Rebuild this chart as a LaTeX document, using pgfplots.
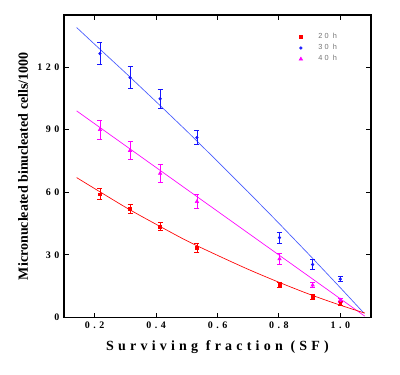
\documentclass[border=0pt]{standalone}
\usepackage{fontspec}
\setmainfont{Liberation Serif}
\newfontfamily\legfont[LetterSpace=30]{Liberation Sans}
\usepackage{pgfplots}
\pgfplotsset{compat=1.18}
\definecolor{cred}{RGB}{255,0,0}
\definecolor{cblue}{RGB}{20,20,255}
\definecolor{cblueline}{RGB}{70,90,255}
\definecolor{cmag}{RGB}{255,0,255}
\begin{document}
\begin{tikzpicture}
\begin{axis}[
  scale only axis,
  width=230pt, height=226.5pt,
  xmin=0.1, xmax=1.1, ymin=0, ymax=145,
  xtick={0.2,0.4,0.6,0.8,1.0},
  xticklabels={0.2,0.4,0.6,0.8,1.0},
  ytick={0,30,60,90,120},
  yticklabels={0,30,60,90,120},
  tick align=inside,
  major tick length=3.5pt,
  tick style={black, line width=0.8pt},
  axis line style={line width=1pt},
  ticklabel style={font=\fontsize{7.5}{9}\selectfont\bfseries\addfontfeatures{LetterSpace=35}},
  xlabel={\addfontfeatures{LetterSpace=30}Surviving fraction (SF)},
  ylabel={Micronucleated binucleated cells/1000},
  label style={font=\fontsize{10.5}{12}\selectfont\bfseries},
  xlabel style={yshift=-2pt},
  ylabel style={yshift=0pt},
  legend image code/.code={\draw[#1] plot coordinates {(0.12cm,0cm)}; \path (0cm,0cm) (0.5cm,0cm);},
  legend style={draw=none, fill=none, at={(0.742,0.958)}, anchor=north west,
    font=\fontsize{5.5}{6}\selectfont\legfont\color{black!55}, row sep=-1.2pt},
  legend cell align=left,
  error bars/error bar style={line width=0.6pt},
]
% fit lines
\addplot[cblueline, line width=0.5pt, forget plot] coordinates {
 (0.141,139.0) (0.2,130.9) (0.3,117.3) (0.4,103.4) (0.5,89.3) (0.6,74.8)
 (0.7,60.1) (0.8,45.1) (0.9,29.8) (1.0,14.2) (1.077,2.0)};
\addplot[cmag, line width=0.5pt, forget plot] coordinates {
 (0.141,99.0) (1.08,0.5)};
\addplot[cred, line width=0.5pt, forget plot, smooth] coordinates {
 (0.141,67.0) (0.3,52.8) (0.4,44.6) (0.5,36.7) (0.6,29.7) (0.7,23.0)
 (0.8,16.8) (0.9,11.0) (1.0,5.8) (1.08,2.0)};
% data
\addplot[cred, only marks, mark=square*, mark size=1.1pt,
  error bars/.cd, y dir=both, y explicit, error mark options={rotate=90, mark size=1.9pt, cred, line width=0.6pt}]
 coordinates {
 (0.217,59) +- (0,2.6)
 (0.315,52) +- (0,2)
 (0.413,43.5) +- (0,2)
 (0.533,33.3) +- (0,2)
 (0.802,15.4) +- (0,1.2)
 (0.91,9.8) +- (0,1)
 (1.0,6.5) +- (0,1)};
\addlegendentry{20 h}
\addplot[cblue, only marks, mark=*, mark size=1.0pt,
  error bars/.cd, y dir=both, y explicit, error mark options={rotate=90, mark size=1.9pt, cblue, line width=0.6pt}]
 coordinates {
 (0.217,126.5) +- (0,5.3)
 (0.315,115.0) +- (0,5.4)
 (0.413,104.8) +- (0,4.6)
 (0.533,86.2) +- (0,3.5)
 (0.802,38.2) +- (0,2.6)
 (0.91,25.3) +- (0,2.4)
 (1.0,18.3) +- (0,1.3)};
\addlegendentry{30 h}
\addplot[cmag, only marks, mark=triangle*, mark size=1.5pt,
  error bars/.cd, y dir=both, y explicit, error mark options={rotate=90, mark size=1.9pt, cmag, line width=0.6pt}]
 coordinates {
 (0.217,90.0) +- (0,4.6)
 (0.315,80.0) +- (0,4.4)
 (0.413,69.0) +- (0,4.5)
 (0.533,55.5) +- (0,3.5)
 (0.802,28.0) +- (0,2.6)
 (0.91,15.4) +- (0,1.2)
 (1.0,8.2) +- (0,1)};
\addlegendentry{40 h}
\end{axis}
\path (current axis.south west) ++(-48pt,-42.75pt);
\path (current axis.north east) ++(21.75pt,11.25pt);
\end{tikzpicture}
\end{document}
